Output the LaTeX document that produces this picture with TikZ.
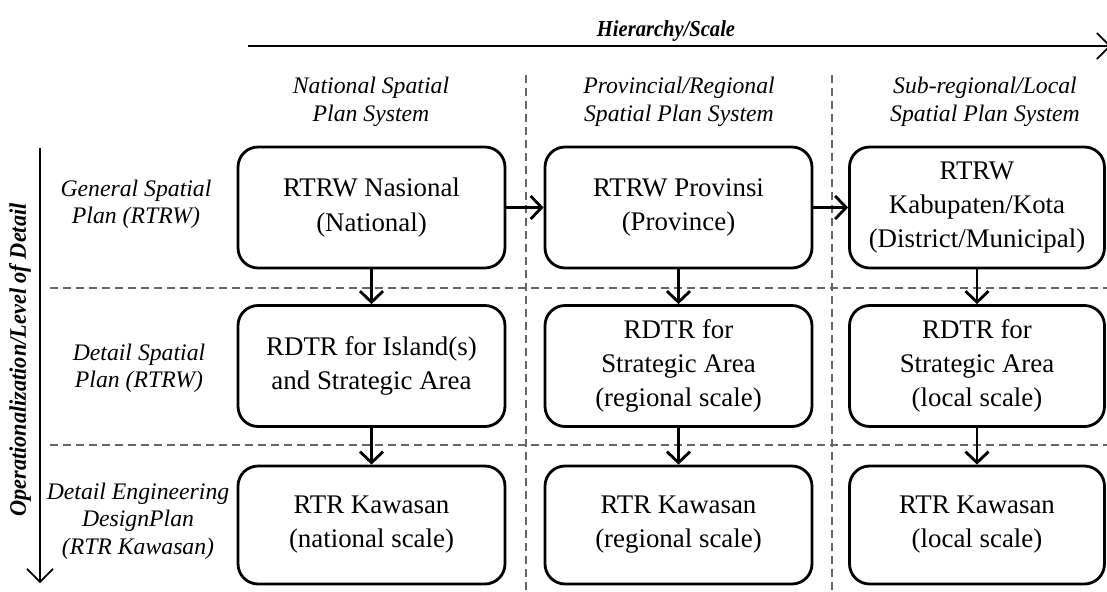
\documentclass[tikz,border=0pt]{standalone}
\usepackage{fontspec}
\setmainfont{Liberation Serif}
\usetikzlibrary{arrows.meta}

\tikzset{
  planbox/.style={draw, line width=1.6pt, rounded corners=0.4cm, minimum width=5.34cm,
    minimum height=2.42cm, align=center, font=\fontsize{15.3}{19.4}\selectfont},
  rowlabel/.style={align=center, font=\fontsize{13.5}{15.6}\selectfont\itshape},
  axislabel/.style={font=\fontsize{13}{15}\selectfont\bfseries\itshape},
  flow/.style={line width=1.6pt, -{Straight Barb[length=2.2mm,width=4.6mm,line width=1.6pt]}},
  axis/.style={line width=1pt, -{Straight Barb[length=2.6mm,width=5.2mm]}},
  sep/.style={dashed, dash pattern=on 0.16cm off 0.1cm, line width=0.9pt, black!60}
}

\begin{document}
\begin{tikzpicture}[x=0.02cm, y=-0.02cm]
      \useasboundingbox (0,0) rectangle (1107,592);

      \draw[sep] (526,75) -- (526,592);
      \draw[sep] (832,75) -- (832,592);
      \draw[sep] (50,288) -- (1107,288);
      \draw[sep] (50,445) -- (1107,445);

      \coordinate (h0) at (248,46);
      \coordinate (h1) at (1111,46);
      \coordinate (v0) at (40,148);
      \coordinate (v1) at (40,583);
      \draw[axis] (h0) -- (h1);
      \draw[axis] (v0) -- (v1);
      \node[axislabel] (hs) at (666,31){\scalebox{0.9}[1]{Hierarchy/Scale}};
      \node[axislabel, rotate=90] (ol) at (20,360){\scalebox{0.94}[1]{\fontsize{13.5}{15}\selectfont Operationalization/Level of Detail}};

      \node[rowlabel] (c1) at (371,102){National Spatial\\Plan System};
      \node[rowlabel] (c2) at (679,102){Provincial/Regional\\Spatial Plan System};
      \node[rowlabel] (c3) at (985,102){Sub-regional/Local\\Spatial Plan System};

      \node[rowlabel] (r1) at (136,204){General Spatial\\Plan (RTRW)};
      \node[rowlabel] (r2) at (139,368){Detail Spatial\\Plan (RTRW)};
      \node[rowlabel] (r3) at (138,521){Detail Engineering\\DesignPlan\\(RTR Kawasan)};

      \node[planbox] (g1) at (371.5,207.5){RTRW Nasional\\(National)};
      \node[planbox] (g2) at (678.5,207.5){RTRW Provinsi\\(Province)};
      \node[planbox, minimum width=5.1cm] (g3) at (977,207.5){RTRW\\Kabupaten/Kota\\(District/Municipal)};

      \node[planbox] (d1) at (371.5,366){RDTR for Island(s)\\and Strategic Area};
      \node[planbox] (d2) at (678.5,366){RDTR for\\Strategic Area\\(regional scale)};
      \node[planbox, minimum width=5.1cm] (d3) at (977,366){RDTR for\\Strategic Area\\(local scale)};

      \node[planbox, minimum height=2.36cm] (e1) at (371.5,525){RTR Kawasan\\(national scale)};
      \node[planbox, minimum height=2.36cm] (e2) at (678.5,525){RTR Kawasan\\(regional scale)};
      \node[planbox, minimum height=2.36cm, minimum width=5.1cm] (e3) at (977,525){RTR Kawasan\\(local scale)};

      \draw[flow] (g1) -- (g2);
      \draw[flow] (g2) -- (g3);
      \foreach \c in {1,2,3} {
        \draw[flow] (g\c) -- (d\c);
        \draw[flow] (d\c) -- (e\c);
      }
    \end{tikzpicture}
\end{document}
